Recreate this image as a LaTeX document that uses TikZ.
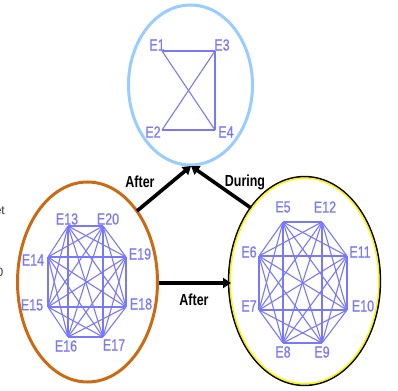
\documentclass[tikz,border=0pt]{standalone}
\usepackage{fontspec}
\setmainfont{Liberation Sans}
\newfontfamily\lblfont[FakeStretch=0.78,FakeBold=0.6]{Liberation Sans}
\newfontfamily\relfont[FakeStretch=0.78]{Liberation Sans}
\usetikzlibrary{arrows.meta}
\definecolor{edgeblue}{HTML}{7878FF}
\definecolor{lightblue}{HTML}{99CCFF}
\definecolor{orangec}{HTML}{CC6A14}
\definecolor{yellowc}{HTML}{FFF200}
\tikzset{
  vtx/.style={circle,inner sep=0pt,minimum size=0pt},
  elab/.style={font=\lblfont\fontsize{16}{16}\selectfont,text=edgeblue,inner sep=0pt},
  rel/.style={font=\relfont\bfseries\fontsize{16}{16}\selectfont,text=black,inner sep=0pt},
  edge/.style={draw=edgeblue,line width=1.1pt},
  bigarrow/.style={draw=black,line width=3.6pt,-{Triangle[length=8pt,width=10pt]}},
  stray/.style={font=\fontsize{12}{12}\selectfont,text=black!80,inner sep=0pt}
}
\begin{document}
\begin{tikzpicture}[x=1pt,y=-1pt]
\useasboundingbox (0,0) rectangle (398,390);
% ellipses
\draw[lightblue,line width=3pt] (190.5,85) ellipse [x radius=62,y radius=80];
\draw[orangec,line width=3pt] (87.5,282) ellipse [x radius=70,y radius=100];
\draw[black,line width=1.8pt] (304.5,281) ellipse [x radius=75.8,y radius=104.3];
\draw[yellowc,line width=1.6pt] (304.5,281) ellipse [x radius=74.4,y radius=102.9];
% stray clipped texts
\node[stray,anchor=east] (s1) at (5,211) {et};
\node[stray] (s2) at (0,272) {0};
% top group
\node[vtx] (T1) at (162,51) {};
\node[vtx] (T3) at (215,51) {};
\node[vtx] (T2) at (162,130) {};
\node[vtx] (T4) at (215,130) {};
\draw[edge] (T1) -- (T3) -- (T4) -- (T2) -- cycle;
\draw[edge] (T1) -- (T4);
\draw[edge] (T2) -- (T3);
\node[elab] (lE1) at (157,45) {E1};
\node[elab] (lE3) at (222,45) {E3};
\node[elab] (lE2) at (153,132) {E2};
\node[elab] (lE4) at (226,132) {E4};
% left group
\node[vtx] (L1) at (68,226) {};
\node[vtx] (L2) at (103,226) {};
\node[vtx] (L3) at (126,257) {};
\node[vtx] (L4) at (126,307) {};
\node[vtx] (L5) at (103,337) {};
\node[vtx] (L6) at (68,337) {};
\node[vtx] (L7) at (48,307) {};
\node[vtx] (L8) at (48,257) {};
\foreach \i in {1,...,7}{
  \pgfmathtruncatemacro{\s}{\i+1}
  \foreach \j in {\s,...,8}{ \draw[edge] (L\i) -- (L\j); }
}
\node[elab] (lE13) at (67,219) {E13};
\node[elab] (lE20) at (108,219) {E20};
\node[elab] (lE19) at (140,254) {E19};
\node[elab] (lE18) at (141,304) {E18};
\node[elab] (lE17) at (114,345) {E17};
\node[elab] (lE16) at (66,346) {E16};
\node[elab] (lE15) at (32,305) {E15};
\node[elab] (lE14) at (33,260) {E14};
% right group
\node[vtx] (R1) at (283,222) {};
\node[vtx] (R2) at (322,222) {};
\node[vtx] (R3) at (347,256) {};
\node[vtx] (R4) at (347,310) {};
\node[vtx] (R5) at (322,343) {};
\node[vtx] (R6) at (283,343) {};
\node[vtx] (R7) at (259,310) {};
\node[vtx] (R8) at (259,256) {};
\foreach \i in {1,...,7}{
  \pgfmathtruncatemacro{\s}{\i+1}
  \foreach \j in {\s,...,8}{ \draw[edge] (R\i) -- (R\j); }
}
\node[elab] (lE5) at (283,207) {E5};
\node[elab] (lE12) at (325,207) {E12};
\node[elab] (lE11) at (360,252) {E11};
\node[elab] (lE10) at (363,306) {E10};
\node[elab] (lE9) at (322,352) {E9};
\node[elab] (lE8) at (283,352) {E8};
\node[elab] (lE7) at (249,306) {E7};
\node[elab] (lE6) at (249,252) {E6};
% connectors
\coordinate (top) at (191,166);
\coordinate (lstart) at (137,211);
\coordinate (rstart) at (251,208);
\coordinate (hstart) at (159,283);
\coordinate (hend) at (231,283);
\draw[bigarrow] (lstart) -- (top);
\draw[bigarrow] (rstart) -- (top);
\draw[bigarrow] (hstart) -- (hend);
\node[rel] (a1) at (140,182) {After};
\node[rel] (a2) at (245,182) {During};
\node[rel] (a3) at (194,300) {After};
\end{tikzpicture}
\end{document}
